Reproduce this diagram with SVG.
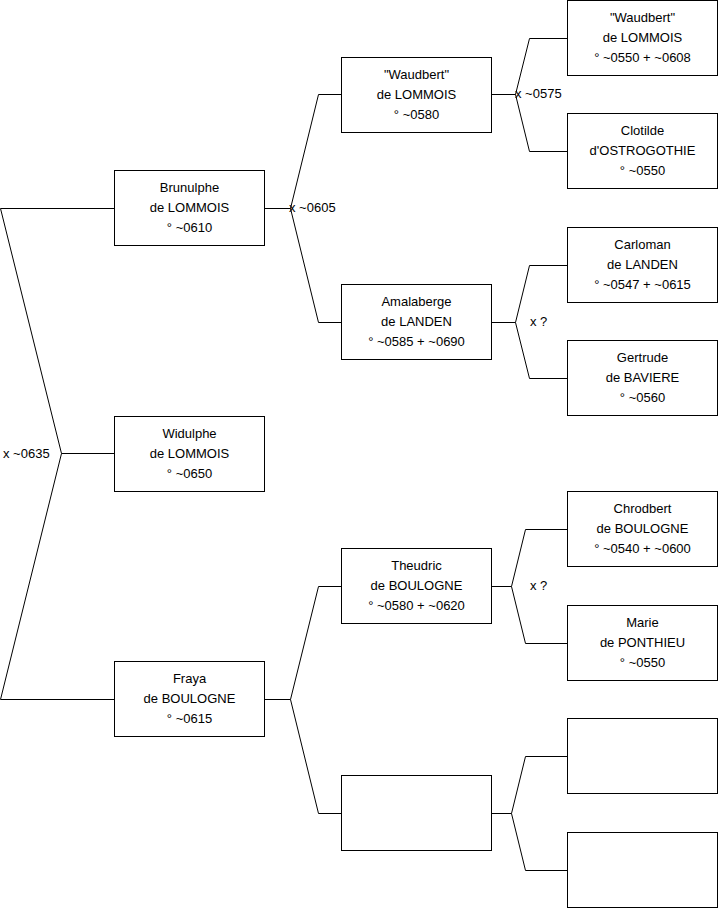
<svg xmlns="http://www.w3.org/2000/svg" width="719" height="908" viewBox="0 0 719 908">
<style>
.box{fill:#fff;stroke:#000;stroke-width:1}
.c{fill:none;stroke:#000;stroke-width:1}
text{font-family:"Liberation Sans",Arial,sans-serif;font-size:13px;fill:#000}
.m{text-anchor:middle}
</style>
<rect width="719" height="908" fill="#fff"/>
<g id="connectors">
<path class="c" d="M114,208.5 H0.5 L61.5,453.5 L0.5,699.5 H114 M61.5,453.5 H114"/>
<path class="c" d="M265,208.5 H290.5 L318.5,94.5 H341 M290.5,208.5 L318.5,322.5 H341"/>
<path class="c" d="M265,699.5 H290.5 L318.5,586.5 H341 M290.5,699.5 L318.5,813.5 H341"/>
<path class="c" d="M492,94.5 H515.5 L529.5,38.5 H567 M515.5,94.5 L529.5,151.5 H567"/>
<path class="c" d="M492,322.5 H515.5 L529.5,265.5 H567 M515.5,322.5 L529.5,378.5 H567"/>
<path class="c" d="M492,586.5 H511.5 L525.5,529.5 H567 M511.5,586.5 L525.5,643.5 H567"/>
<path class="c" d="M492,813.5 H511.5 L525.5,756.5 H567 M511.5,813.5 L525.5,870.5 H567"/>
<text x="3" y="458">x ~0635</text>
<text x="289" y="212">x ~0605</text>
<text x="515" y="98">x ~0575</text>
<text x="530" y="326">x ?</text>
<text x="530" y="590">x ?</text>
</g>
<g id="brunulphe"><rect class="box" x="114.5" y="170.5" width="150" height="75"/>
<text class="m" x="189.5" y="192">Brunulphe</text><text class="m" x="189.5" y="212">de LOMMOIS</text><text class="m" x="189.5" y="232">° ~0610</text></g>
<g id="widulphe"><rect class="box" x="114.5" y="416.5" width="150" height="75"/>
<text class="m" x="189.5" y="438">Widulphe</text><text class="m" x="189.5" y="458">de LOMMOIS</text><text class="m" x="189.5" y="478">° ~0650</text></g>
<g id="fraya"><rect class="box" x="114.5" y="661.5" width="150" height="75"/>
<text class="m" x="189.5" y="683">Fraya</text><text class="m" x="189.5" y="703">de BOULOGNE</text><text class="m" x="189.5" y="723">° ~0615</text></g>
<g id="waudbert1"><rect class="box" x="341.5" y="57.5" width="150" height="75"/>
<text class="m" x="416.5" y="79">"Waudbert"</text><text class="m" x="416.5" y="99">de LOMMOIS</text><text class="m" x="416.5" y="119">° ~0580</text></g>
<g id="amalaberge"><rect class="box" x="341.5" y="284.5" width="150" height="75"/>
<text class="m" x="416.5" y="306">Amalaberge</text><text class="m" x="416.5" y="326">de LANDEN</text><text class="m" x="416.5" y="346">° ~0585 + ~0690</text></g>
<g id="theudric"><rect class="box" x="341.5" y="548.5" width="150" height="75"/>
<text class="m" x="416.5" y="570">Theudric</text><text class="m" x="416.5" y="590">de BOULOGNE</text><text class="m" x="416.5" y="610">° ~0580 + ~0620</text></g>
<g id="empty2"><rect class="box" x="341.5" y="775.5" width="150" height="75"/></g>
<g id="waudbert2"><rect class="box" x="567.5" y="0.5" width="150" height="75"/>
<text class="m" x="642.5" y="22">"Waudbert"</text><text class="m" x="642.5" y="42">de LOMMOIS</text><text class="m" x="642.5" y="62">° ~0550 + ~0608</text></g>
<g id="clotilde"><rect class="box" x="567.5" y="113.5" width="150" height="75"/>
<text class="m" x="642.5" y="135">Clotilde</text><text class="m" x="642.5" y="155">d'OSTROGOTHIE</text><text class="m" x="642.5" y="175">° ~0550</text></g>
<g id="carloman"><rect class="box" x="567.5" y="227.5" width="150" height="75"/>
<text class="m" x="642.5" y="249">Carloman</text><text class="m" x="642.5" y="269">de LANDEN</text><text class="m" x="642.5" y="289">° ~0547 + ~0615</text></g>
<g id="gertrude"><rect class="box" x="567.5" y="340.5" width="150" height="75"/>
<text class="m" x="642.5" y="362">Gertrude</text><text class="m" x="642.5" y="382">de BAVIERE</text><text class="m" x="642.5" y="402">° ~0560</text></g>
<g id="chrodbert"><rect class="box" x="567.5" y="491.5" width="150" height="75"/>
<text class="m" x="642.5" y="513">Chrodbert</text><text class="m" x="642.5" y="533">de BOULOGNE</text><text class="m" x="642.5" y="553">° ~0540 + ~0600</text></g>
<g id="marie"><rect class="box" x="567.5" y="605.5" width="150" height="75"/>
<text class="m" x="642.5" y="627">Marie</text><text class="m" x="642.5" y="647">de PONTHIEU</text><text class="m" x="642.5" y="667">° ~0550</text></g>
<g id="empty3a"><rect class="box" x="567.5" y="718.5" width="150" height="75"/></g>
<g id="empty3b"><rect class="box" x="567.5" y="832.5" width="150" height="75"/></g>
</svg>
